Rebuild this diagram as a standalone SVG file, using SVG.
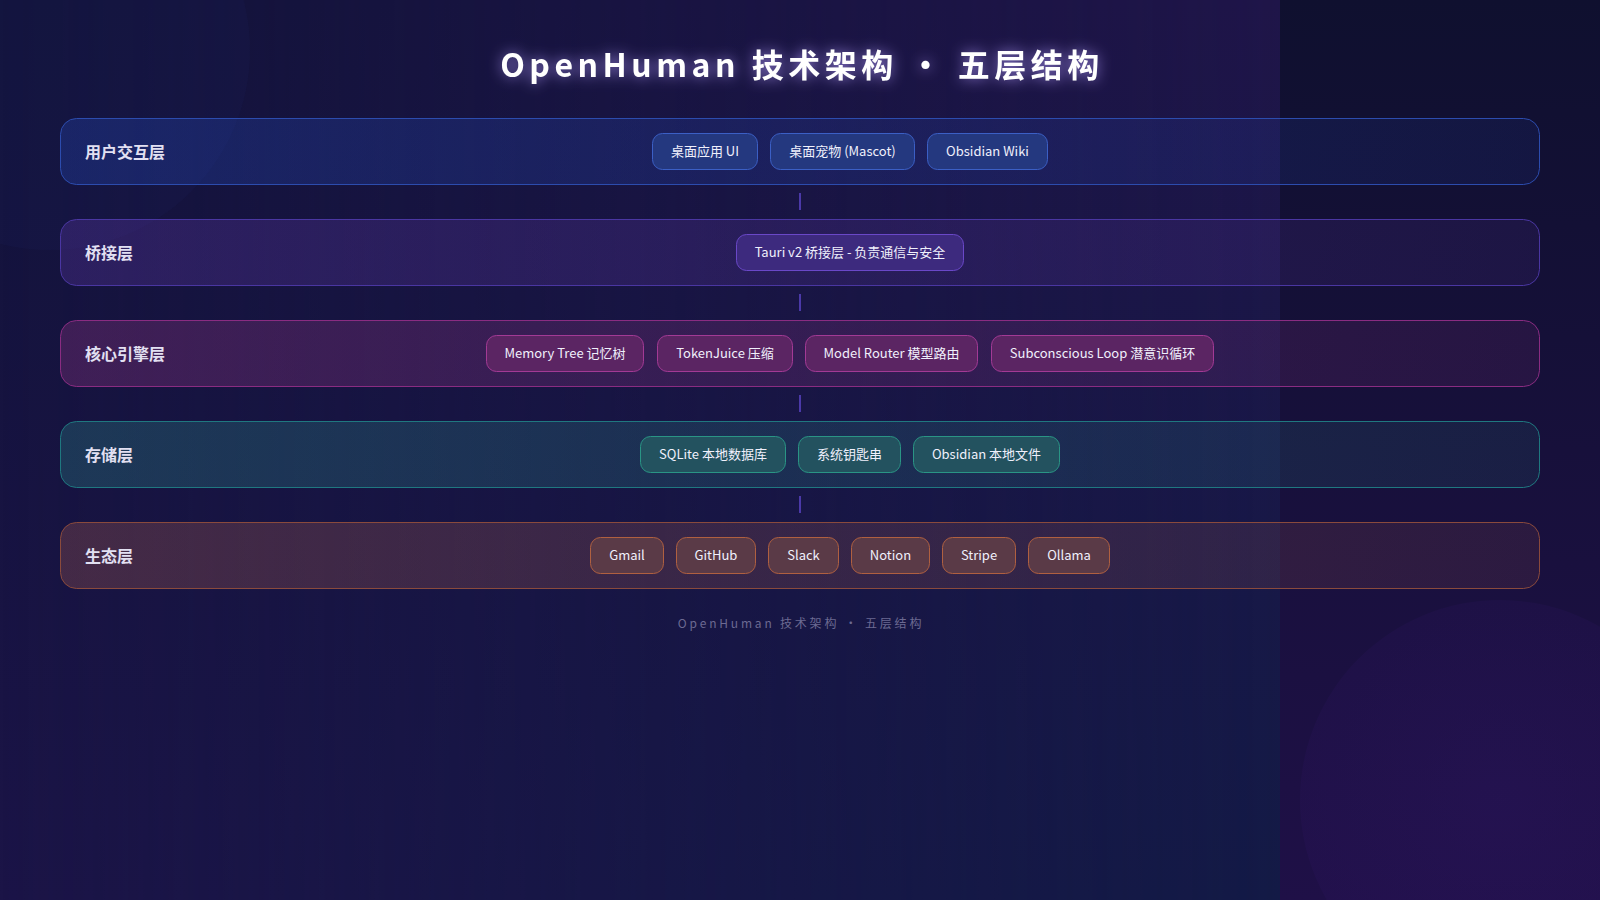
<svg xmlns="http://www.w3.org/2000/svg" width="1600" height="900" viewBox="0 0 1600 900">
<style>
.title{font-family:"Noto Sans CJK SC","Noto Sans",sans-serif;font-size:32px;font-weight:700;fill:#ffffff;letter-spacing:4.5px}
.foot{font-family:"Noto Sans CJK SC","Noto Sans",sans-serif;font-size:12px;fill:#6c6a92;letter-spacing:2.8px}
.lbl{font-family:"Noto Sans CJK SC","Noto Sans",sans-serif;font-size:16px;font-weight:700;fill:#e2e0f2}
.ct{font-family:"Noto Sans CJK SC","Noto Sans",sans-serif;font-size:13px;fill:#f0f0fc;text-anchor:middle}
.p1{fill:url(#g1);stroke:#2c4cae;stroke-width:1}
.p2{fill:url(#g2);stroke:#4a36a2;stroke-width:1}
.p3{fill:url(#g3);stroke:#8a2c82;stroke-width:1}
.p4{fill:url(#g4);stroke:#1f7880;stroke-width:1}
.p5{fill:url(#g5);stroke:#8a4a3c;stroke-width:1}
.c1{fill:#24387f;stroke:#3b5fc5;stroke-width:1}
.c2{fill:#3d2a7e;stroke:#6a48c8;stroke-width:1}
.c3{fill:#5b2563;stroke:#a33a95;stroke-width:1}
.c4{fill:#23525f;stroke:#2a9585;stroke-width:1}
.c5{fill:#5a3a47;stroke:#b06040;stroke-width:1}
.conn{stroke:#4b39a8;stroke-width:2}
</style>
<defs>
<linearGradient id="bgBase" x1="0" y1="0" x2="0" y2="1"><stop offset="0" stop-color="#0f102f"/><stop offset="1" stop-color="#1f1047"/></linearGradient>
<linearGradient id="bandL" x1="0" y1="0" x2="0" y2="1"><stop offset="0" stop-color="#12133a"/><stop offset="1" stop-color="#1b1447"/></linearGradient>
<linearGradient id="bandR" x1="0" y1="0" x2="0" y2="1"><stop offset="0" stop-color="#1f1549"/><stop offset="1" stop-color="#131a46"/></linearGradient>
<linearGradient id="hfade" x1="0" y1="0" x2="1" y2="0"><stop offset="0" stop-color="#fff" stop-opacity="0"/><stop offset="1" stop-color="#fff" stop-opacity="1"/></linearGradient>
<mask id="bandMask"><rect x="0" y="0" width="1280" height="900" fill="url(#hfade)"/></mask>
<radialGradient id="blobBR" cx="0.5" cy="0.5" r="0.5"><stop offset="0" stop-color="#3a1a78" stop-opacity="0.22"/><stop offset="1" stop-color="#35176e" stop-opacity="0.15"/></radialGradient>
<linearGradient id="g1" x1="0" y1="0" x2="1" y2="0"><stop offset="0" stop-color="#2850c8" stop-opacity="0.28"/><stop offset="1" stop-color="#2850c8" stop-opacity="0.1"/></linearGradient>
<linearGradient id="g2" x1="0" y1="0" x2="1" y2="0"><stop offset="0" stop-color="#643caf" stop-opacity="0.3"/><stop offset="1" stop-color="#643caf" stop-opacity="0.12"/></linearGradient>
<linearGradient id="g3" x1="0" y1="0" x2="1" y2="0"><stop offset="0" stop-color="#a03a8c" stop-opacity="0.3"/><stop offset="1" stop-color="#a03a8c" stop-opacity="0.12"/></linearGradient>
<linearGradient id="g4" x1="0" y1="0" x2="1" y2="0"><stop offset="0" stop-color="#30a096" stop-opacity="0.26"/><stop offset="1" stop-color="#30a096" stop-opacity="0.1"/></linearGradient>
<linearGradient id="g5" x1="0" y1="0" x2="1" y2="0"><stop offset="0" stop-color="#b66452" stop-opacity="0.28"/><stop offset="1" stop-color="#b66452" stop-opacity="0.12"/></linearGradient>
<filter id="glow" x="-20%" y="-80%" width="140%" height="260%"><feGaussianBlur in="SourceAlpha" stdDeviation="7" result="b"/><feFlood flood-color="#b49cff" flood-opacity="0.75"/><feComposite in2="b" operator="in" result="g"/><feMerge><feMergeNode in="g"/><feMergeNode in="SourceGraphic"/></feMerge></filter>
</defs>

<g id="background">
<rect x="0" y="0" width="1600" height="900" fill="url(#bgBase)"/>
<rect x="0" y="0" width="1280" height="900" fill="url(#bandL)"/>
<rect x="0" y="0" width="1280" height="900" fill="url(#bandR)" mask="url(#bandMask)"/>
<circle cx="50" cy="50" r="200" fill="#3a45a0" fill-opacity="0.06"/>
<circle cx="1500" cy="800" r="200" fill="url(#blobBR)"/>
</g>

<text class="title" x="802" y="63" text-anchor="middle" dominant-baseline="central" filter="url(#glow)">OpenHuman 技术架构 · 五层结构</text>

<g id="connectors">
<line class="conn" x1="800" y1="193" x2="800" y2="210"/>
<line class="conn" x1="800" y1="294" x2="800" y2="311"/>
<line class="conn" x1="800" y1="395" x2="800" y2="412"/>
<line class="conn" x1="800" y1="496" x2="800" y2="513"/>
</g>

<g id="layer-ui">
<rect class="p1" x="60.5" y="118.5" width="1479" height="66" rx="16"/>
<text class="lbl" x="85" y="151" dominant-baseline="central">用户交互层</text>
<g id="chip-desktop-ui"><rect class="c1" x="652.5" y="133.5" width="105" height="36" rx="10"/><text class="ct" x="705" y="150.5" dominant-baseline="central">桌面应用 UI</text></g>
<g id="chip-mascot"><rect class="c1" x="770.5" y="133.5" width="144" height="36" rx="10"/><text class="ct" x="842.5" y="150.5" dominant-baseline="central">桌面宠物 (Mascot)</text></g>
<g id="chip-obsidian-wiki"><rect class="c1" x="927.5" y="133.5" width="120" height="36" rx="10"/><text class="ct" x="987.5" y="150.5" dominant-baseline="central">Obsidian Wiki</text></g>
</g>

<g id="layer-bridge">
<rect class="p2" x="60.5" y="219.5" width="1479" height="66" rx="16"/>
<text class="lbl" x="85" y="252" dominant-baseline="central">桥接层</text>
<g id="chip-tauri"><rect class="c2" x="736.5" y="234.5" width="227" height="36" rx="10"/><text class="ct" x="850" y="251.5" dominant-baseline="central">Tauri v2 桥接层 - 负责通信与安全</text></g>
</g>

<g id="layer-core">
<rect class="p3" x="60.5" y="320.5" width="1479" height="66" rx="16"/>
<text class="lbl" x="85" y="353" dominant-baseline="central">核心引擎层</text>
<g id="chip-memory"><rect class="c3" x="486.5" y="335.5" width="157" height="36" rx="10"/><text class="ct" x="565" y="352.5" dominant-baseline="central">Memory Tree 记忆树</text></g>
<g id="chip-tokenjuice"><rect class="c3" x="657.5" y="335.5" width="135" height="36" rx="10"/><text class="ct" x="725" y="352.5" dominant-baseline="central">TokenJuice 压缩</text></g>
<g id="chip-router"><rect class="c3" x="805.5" y="335.5" width="172" height="36" rx="10"/><text class="ct" x="891.5" y="352.5" dominant-baseline="central">Model Router 模型路由</text></g>
<g id="chip-loop"><rect class="c3" x="991.5" y="335.5" width="222" height="36" rx="10"/><text class="ct" x="1102.5" y="352.5" dominant-baseline="central">Subconscious Loop 潜意识循环</text></g>
</g>

<g id="layer-storage">
<rect class="p4" x="60.5" y="421.5" width="1479" height="66" rx="16"/>
<text class="lbl" x="85" y="454" dominant-baseline="central">存储层</text>
<g id="chip-sqlite"><rect class="c4" x="640.5" y="436.5" width="145" height="36" rx="10"/><text class="ct" x="713" y="453.5" dominant-baseline="central">SQLite 本地数据库</text></g>
<g id="chip-keychain"><rect class="c4" x="798.5" y="436.5" width="102" height="36" rx="10"/><text class="ct" x="849.5" y="453.5" dominant-baseline="central">系统钥匙串</text></g>
<g id="chip-obsidian-files"><rect class="c4" x="913.5" y="436.5" width="146" height="36" rx="10"/><text class="ct" x="986.5" y="453.5" dominant-baseline="central">Obsidian 本地文件</text></g>
</g>

<g id="layer-ecosystem">
<rect class="p5" x="60.5" y="522.5" width="1479" height="66" rx="16"/>
<text class="lbl" x="85" y="555" dominant-baseline="central">生态层</text>
<g id="chip-gmail"><rect class="c5" x="590.5" y="537.5" width="73" height="36" rx="10"/><text class="ct" x="627" y="554.5" dominant-baseline="central">Gmail</text></g>
<g id="chip-github"><rect class="c5" x="676.5" y="537.5" width="79" height="36" rx="10"/><text class="ct" x="716" y="554.5" dominant-baseline="central">GitHub</text></g>
<g id="chip-slack"><rect class="c5" x="768.5" y="537.5" width="70" height="36" rx="10"/><text class="ct" x="803.5" y="554.5" dominant-baseline="central">Slack</text></g>
<g id="chip-notion"><rect class="c5" x="851.5" y="537.5" width="78" height="36" rx="10"/><text class="ct" x="890.5" y="554.5" dominant-baseline="central">Notion</text></g>
<g id="chip-stripe"><rect class="c5" x="942.5" y="537.5" width="73" height="36" rx="10"/><text class="ct" x="979" y="554.5" dominant-baseline="central">Stripe</text></g>
<g id="chip-ollama"><rect class="c5" x="1028.5" y="537.5" width="81" height="36" rx="10"/><text class="ct" x="1069" y="554.5" dominant-baseline="central">Ollama</text></g>
</g>

<text class="foot" x="801" y="622" text-anchor="middle" dominant-baseline="central">OpenHuman 技术架构 · 五层结构</text>
</svg>
